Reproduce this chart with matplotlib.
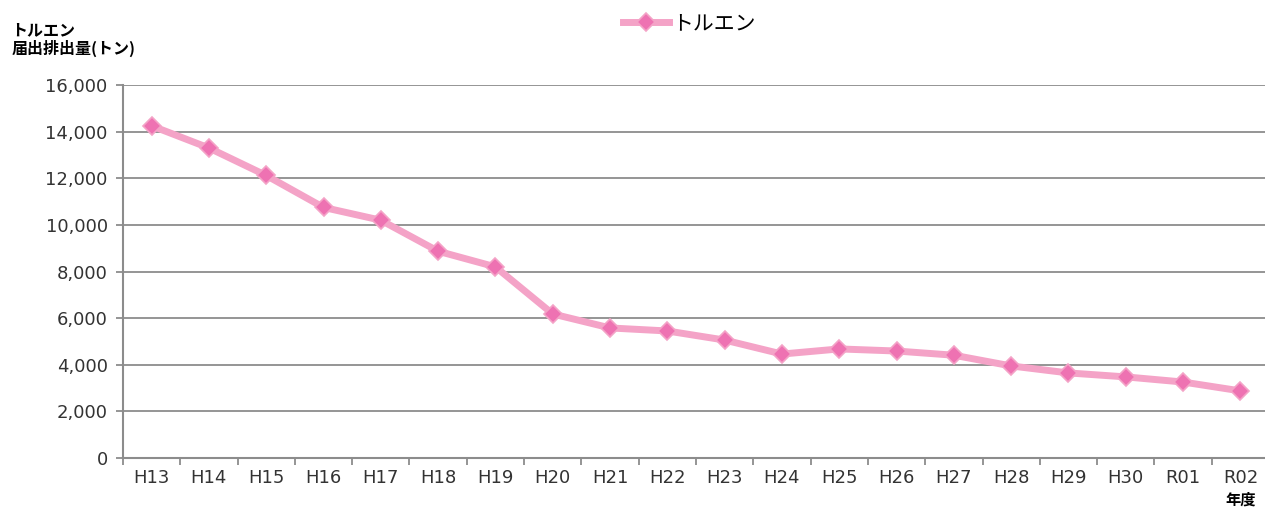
import matplotlib.pyplot as plt
from matplotlib.ticker import FuncFormatter, FixedLocator

plt.rcParams['font.family'] = ['Noto Sans CJK JP', 'DejaVu Sans']

# fiscal years and reported toluene emissions (tonnes)
years = ['H13', 'H14', 'H15', 'H16', 'H17', 'H18', 'H19', 'H20', 'H21', 'H22',
         'H23', 'H24', 'H25', 'H26', 'H27', 'H28', 'H29', 'H30', 'R01', 'R02']
toluene = [14250, 13300, 12120, 10750, 10200, 8870, 8200, 6180, 5580, 5450,
           5060, 4460, 4680, 4590, 4410, 3950, 3650, 3480, 3260, 2880]

line_color = '#f4a3c7'
marker_color = '#ee72b2'
grid_color = '#8c8c8c'

fig = plt.figure(figsize=(12.65, 5.07), dpi=100)
ax = fig.add_axes([0.0972, 0.0966, 0.906, 0.7357])

x = range(len(years))
ax.plot(x, toluene, color=line_color, lw=5, marker='D', ms=9,
        mfc=marker_color, mec=line_color, mew=1.2, label='トルエン', zorder=3)

ax.set_xlim(-0.5, len(years) - 0.5)
ax.set_ylim(0, 16000)
ax.set_yticks(range(0, 16001, 2000))
ax.yaxis.set_major_formatter(FuncFormatter(lambda v, p: f'{int(v):,}'))
ax.grid(axis='y', color=grid_color, lw=1.3)
ax.set_axisbelow(True)

ax.set_xticks(list(x))
ax.set_xticklabels(years)
ax.xaxis.set_minor_locator(FixedLocator([i - 0.5 for i in range(len(years) + 1)]))
ax.tick_params(axis='x', which='major', length=0, pad=8, labelsize=13, colors='#333333')
ax.tick_params(axis='x', which='minor', length=5, width=1.3, color=grid_color)
ax.tick_params(axis='y', length=5, width=1.3, color=grid_color, labelsize=13,
               labelcolor='#333333', pad=6)
for lab in ax.get_xticklabels() + ax.get_yticklabels():
    lab.set_family(['DejaVu Sans'])

for s in ['top', 'right']:
    ax.spines[s].set_visible(False)
for s in ['left', 'bottom']:
    ax.spines[s].set_color(grid_color)
    ax.spines[s].set_linewidth(1.5)

fig.text(0.009, 0.94, 'トルエン', fontsize=11.5, fontweight='bold', va='center')
fig.text(0.009, 0.905, '届出排出量(トン)', fontsize=11.5, fontweight='bold', va='center')
fig.text(0.981, 0.015, '年度', fontsize=11, fontweight='bold', ha='center', va='center')

fig.legend(loc='center', bbox_to_anchor=(0.545, 0.955), frameon=False, fontsize=15,
           handlelength=2.2, handletextpad=0.15)

fig.savefig('out.png', dpi=100)
